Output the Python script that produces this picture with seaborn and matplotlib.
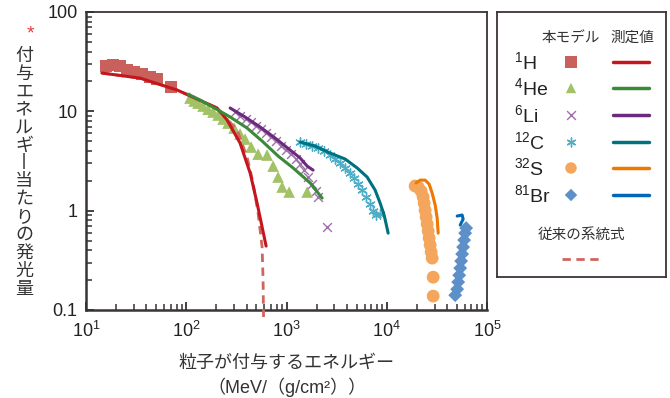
import numpy as np
import pandas as pd
import seaborn as sns
import matplotlib.pyplot as plt
from matplotlib.ticker import LogLocator, NullFormatter, FixedLocator

sns.set_style("ticks", {"xtick.direction": "in", "ytick.direction": "in"})
plt.rcParams['font.family'] = ['Liberation Sans', 'Noto Sans CJK JP']
plt.rcParams['mathtext.fontset'] = 'custom'
plt.rcParams['mathtext.rm'] = 'Liberation Sans'
plt.rcParams['mathtext.default'] = 'regular'

# --- measured points (本モデル) ---
h_x = [15.8, 18.6, 21.9, 25.7, 30.2, 36.3, 43.7, 51.3, 70.8]
h_y = [28.6, 29.3, 28.6, 26.1, 24.9, 23.8, 22.1, 21.1, 17.6]

he_x = [109, 120, 131, 147, 165, 185, 208, 233, 261, 300, 344, 386, 444, 521, 640, 735, 824, 904, 1062, 1607]
he_y = [13.6, 12.7, 12.1, 11.3, 10.5, 9.84, 9.18, 8.36, 7.62, 6.79, 5.91, 5.26, 4.37, 3.71, 3.63, 2.81, 2.18, 1.73, 1.54, 1.54]

li_x = [307, 344, 395, 444, 498, 558, 626, 702, 787, 883, 991, 1112, 1247, 1368, 1500, 1644, 1803, 1972, 2065, 2541]
li_y = [9.84, 8.97, 8.36, 7.80, 7.11, 6.63, 6.04, 5.51, 5.02, 4.47, 4.08, 3.71, 3.31, 2.95, 2.56, 2.18, 1.85, 1.57, 1.37, 0.684]

c_x = [1368, 1570, 1803, 2065, 2371, 2723, 3055, 3428, 3846, 4315, 4732, 5188, 5681, 6227, 6824, 7313, 7834, 8596]
c_y = [4.91, 4.69, 4.47, 4.27, 3.98, 3.63, 3.31, 3.02, 2.69, 2.39, 2.13, 1.85, 1.61, 1.37, 1.16, 0.99, 0.90, 0.92]

s_x = [19190, 20560, 22030, 23070, 23600, 24150, 24710, 25290, 25880, 26480, 27100, 27730, 28380, 29040, 29040]
s_y = [1.77, 1.73, 1.57, 1.37, 1.19, 1.01, 0.863, 0.733, 0.624, 0.530, 0.451, 0.383, 0.333, 0.214, 0.138]

br_x = [61940, 60530, 59150, 57800, 56490, 55200, 54030, 52800, 51600, 50420, 48190]
br_y = [0.668, 0.594, 0.506, 0.430, 0.366, 0.311, 0.264, 0.224, 0.191, 0.162, 0.141]

# --- measured curves (測定値) ---
hl_x = [14.4, 34.6, 80.9, 203, 255, 344, 434, 509, 626]
hl_y = [24.3, 21.6, 16.4, 10.8, 8.2, 4.8, 2.39, 1.19, 0.44]

hel_x = [104, 137, 185, 274, 404, 571, 824, 1164, 1722, 2266]
hel_y = [14.9, 13.0, 11.0, 8.77, 6.79, 5.02, 3.55, 2.69, 1.90, 1.34]

lil_x = [274, 386, 546, 770, 1086, 1368, 1607, 1841]
lil_y = [10.8, 8.77, 6.95, 5.38, 4.08, 3.39, 2.81, 2.56]

cl_x = [1368, 1928, 2723, 3846, 5070, 6373, 7659, 8596, 9425, 10330]
cl_y = [4.91, 4.47, 3.80, 3.31, 2.69, 2.18, 1.61, 1.19, 0.90, 0.594]

sl_x = [19640, 21530, 24150, 26480, 28380, 30410, 31840, 32580]
sl_y = [1.90, 2.03, 2.03, 1.85, 1.50, 1.14, 0.841, 0.594]

brl_x = [50420, 56490, 57800, 54030]
brl_y = [0.883, 0.904, 0.822, 0.716]

# --- conventional formula (従来の系統式) ---
old_x = [14.4, 34.6, 80.9, 203, 321, 404, 464, 521, 571, 584, 590]
old_y = [24.3, 21.6, 16.4, 10.8, 6.49, 3.47, 1.90, 0.946, 0.43, 0.20, 0.085]

labels = ['$^{1}$H', '$^{4}$He', '$^{6}$Li', '$^{12}$C', '$^{32}$S', '$^{81}$Br']
mk_colors = ['#c9605b', '#a2c266', '#a06fac', '#4eaec6', '#f3a65c', '#5d90c8']
ln_colors = ['#c4161c', '#3a8a3a', '#6b2a7d', '#00717f', '#ee7800', '#0068b7']
markers = ['s', '^', 'x', (6, 2, 0), 'o', 'D']
msizes = [80, 70, 40, 45, 85, 50]

points = [(h_x, h_y), (he_x, he_y), (li_x, li_y), (c_x, c_y), (s_x, s_y), (br_x, br_y)]
curves = [(hl_x, hl_y), (hel_x, hel_y), (lil_x, lil_y), (cl_x, cl_y), (sl_x, sl_y), (brl_x, brl_y)]

fig = plt.figure(figsize=(6.7, 3.98), dpi=100)
ax = fig.add_axes([86 / 670, 1 - 310 / 398, 401 / 670, 298 / 398])
ax.set_xscale('log')
ax.set_yscale('log')

for (px, py), m, c, s in zip(points, markers, mk_colors, msizes):
    d = pd.DataFrame({'x': px, 'y': py})
    if m in ['x', (6, 2, 0)]:
        sns.scatterplot(data=d, x='x', y='y', ax=ax, marker=m, color=c, s=s, linewidth=1.0, zorder=2)
    else:
        sns.scatterplot(data=d, x='x', y='y', ax=ax, marker=m, color=c, s=s, edgecolor='none', zorder=2)

d = pd.DataFrame({'x': old_x, 'y': old_y})
sns.lineplot(data=d, x='x', y='y', ax=ax, color='#d0655f', linewidth=2, dashes=[(3, 2)],
             style=np.zeros(len(old_x)), legend=False, sort=False, estimator=None, zorder=3, clip_on=False)

for (lx, ly), c in zip(curves, ln_colors):
    d = pd.DataFrame({'x': lx, 'y': ly})
    sns.lineplot(data=d, x='x', y='y', ax=ax, color=c, linewidth=2.2, sort=False, estimator=None, zorder=4)

ax.set_xlim(10, 1e5)
ax.set_ylim(0.1, 100)
ax.set_xlabel('')
ax.set_ylabel('')
for sp in ax.spines.values():
    sp.set_visible(True)
    sp.set_color('#3a3434')
    sp.set_linewidth(1.3)
ax.spines['left'].set_linewidth(1.8)
ax.spines['bottom'].set_linewidth(1.8)

# axis titles
fig.text(286 / 670, 1 - 363 / 398, '粒子が付与するエネルギー', ha='center', va='center', fontsize=13, color='#333333')
fig.text(287 / 670, 1 - 387 / 398, '（MeV/（g/cm²））', ha='center', va='center', fontsize=13, color='#333333')

ylab = '付与エネルギ丨当たりの発光量'
for i, ch in enumerate(ylab):
    fig.text(24 / 670, 1 - (56 + i * 17.9) / 398, ch, ha='center', va='center', fontsize=13, color='#333333',
             family=['Noto Sans CJK JP', 'DejaVu Sans'])
fig.text(30 / 670, 1 - 34 / 398, '*', ha='center', va='center', fontsize=14, color='#e8383d')

# legend panel
lax = fig.add_axes([497 / 670, 1 - 277 / 398, 169 / 670, 265 / 398])
lax.set_xlim(497, 666)
lax.set_ylim(277, 12)
lax.set_xticks([])
lax.set_yticks([])
for sp in lax.spines.values():
    sp.set_visible(True)
    sp.set_color('#3a3434')
    sp.set_linewidth(1.3)

lax.text(571, 38, '本モデル', ha='center', va='center', fontsize=10.5, color='#333333')
lax.text(632, 38, '測定値', ha='center', va='center', fontsize=10.5, color='#333333')
rows = [62, 88, 115, 142, 168, 195]
for r, lab, m, mc, lc, s in zip(rows, labels, markers, mk_colors, ln_colors, msizes):
    lax.text(514, r, lab, ha='left', va='center', fontsize=14, color='#222222')
    if m in ['x', (6, 2, 0)]:
        lax.scatter([571], [r], marker=m, color=mc, s=40, linewidth=1.0)
    else:
        lax.scatter([571], [r], marker=m, color=mc, s=s * 0.8, edgecolor='none')
    lax.plot([613, 649], [r, r], color=lc, linewidth=2.5)
lax.text(582, 235, '従来の系統式', ha='center', va='center', fontsize=10.5, color='#333333')
lax.plot([562, 602], [259, 259], color='#d0655f', linewidth=2, dashes=(3, 2))

# ticks last: majors at decades, minors at 2..9 of each decade
ax.set_axisbelow(False)
ax.xaxis.set_major_locator(FixedLocator([10, 100, 1000, 10000, 100000]))
ax.yaxis.set_major_locator(FixedLocator([0.1, 1, 10, 100]))
ax.xaxis.set_minor_locator(LogLocator(base=10, subs=np.arange(2, 10), numticks=20))
ax.yaxis.set_minor_locator(LogLocator(base=10, subs=np.arange(2, 10), numticks=20))
ax.set_xticklabels(['10$^{1}$', '10$^{2}$', '10$^{3}$', '10$^{4}$', '10$^{5}$'])
ax.set_yticklabels(['0.1', '1', '10', '100'])
ax.xaxis.set_minor_formatter(NullFormatter())
ax.yaxis.set_minor_formatter(NullFormatter())
ax.tick_params(which='both', direction='in', bottom=True, left=True, color='#333333', labelcolor='#222222')
ax.tick_params(which='major', length=6, width=1.3, labelsize=13, pad=6)
ax.tick_params(which='minor', length=4, width=1.1)
ax.tick_params(axis='x', which='major', pad=8)

fig.savefig('out.png', dpi=100)
